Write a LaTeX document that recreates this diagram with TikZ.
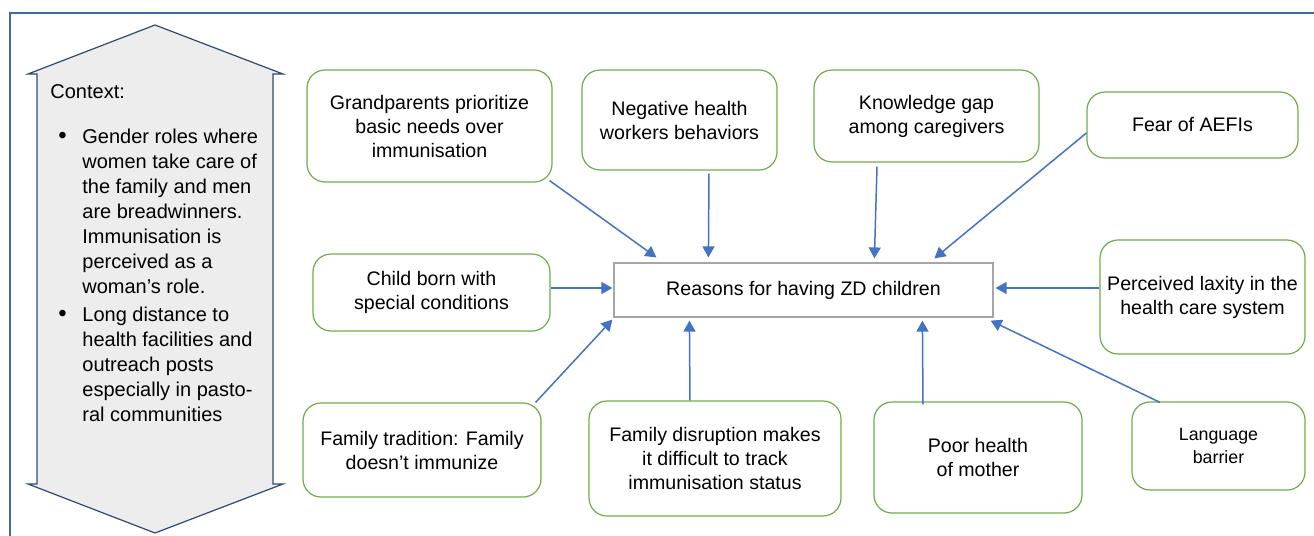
\documentclass[tikz,border=0pt]{standalone}
\usepackage{fontspec}
\setmainfont{Liberation Sans}
\usetikzlibrary{arrows.meta,calc}

\definecolor{boxgreen}{HTML}{70AD47}
\definecolor{linkblue}{HTML}{4472C4}
\definecolor{framblue}{HTML}{3E6E96}
\definecolor{ctxfill}{HTML}{EDEDED}
\definecolor{ctxline}{HTML}{2F4A70}

\tikzset{
  reason/.style={draw=boxgreen, line width=0.6pt, rounded corners=9pt, fill=white,
    align=center, font=\fontsize{9.8}{12}\selectfont},
  core/.style={draw=gray!70, line width=0.6pt, fill=white, align=center,
    font=\fontsize{9.8}{12}\selectfont},
  link/.style={draw=linkblue, line width=0.75pt, -{Triangle[length=5.5pt,width=6pt]}},
}

\begin{document}
\begin{tikzpicture}[x=0.5pt,y=-0.5pt]
\useasboundingbox (0,0) rectangle (1314,536);

%frame
\draw[framblue, line width=0.6pt] (10,536) -- (10,13) -- (1314,13);

%context arrow (up and down)
\draw[ctxline, fill=ctxfill, line width=0.6pt] (155,25) -- (283,74) -- (273,74) -- (273,484)
  -- (283,484) -- (155,533) -- (28,484) -- (37,484) -- (37,74) -- (28,74) -- cycle;

\node[anchor=north west, inner sep=0pt, align=left, font=\fontsize{10}{12.5}\selectfont] (ctx) at (50,84) {Context:\\[12.5pt]
\begin{tabular}{@{}p{16pt}@{}l@{}}
\hspace{4pt}{\large\textbullet} & Gender roles where\\
 & women take care of\\
 & the family and men\\
 & are breadwinners.\\
 & Immunisation is\\
 & perceived as a\\
 & woman’s role.\\[1.5pt]
\hspace{4pt}{\large\textbullet} & Long distance to\\
 & health facilities and\\
 & outreach posts\\
 & especially in pasto-\\
 & ral communities
\end{tabular}};

%center
\node[core, minimum width=189.5pt, minimum height=27pt] (zd) at (803.5,290) {Reasons for having ZD children};

%top row
\node[reason, minimum width=122.5pt, minimum height=56pt] (gp) at (429.5,126) {Grandparents prioritize\\basic needs over\\immunisation};
\node[reason, minimum width=97.5pt, minimum height=50pt] (neg) at (679.5,120) {Negative health\\workers behaviors};
\node[reason, minimum width=112.5pt, minimum height=46pt] (kg) at (926.5,116) {Knowledge gap\\among caregivers};
\node[reason, minimum width=105.5pt, minimum height=33pt] (fear) at (1192.5,125) {Fear of AEFIs};

%middle row
\node[reason, minimum width=118.5pt, minimum height=38.5pt] (child) at (431.5,292.5) {Child born with\\special conditions};
\node[reason, minimum width=102.5pt, minimum height=57pt] (lax) at (1202.5,297) {Perceived laxity in the\\health care system};

%bottom row
\node[reason, minimum width=119pt, minimum height=47pt] (ft) at (422,450) {Family tradition: Family\\doesn’t immunize};
\node[reason, minimum width=126pt, minimum height=57.5pt] (dis) at (715,458.5) {Family disruption makes\\it difficult to track\\immunisation status};
\node[reason, minimum width=104pt, minimum height=55.5pt] (poor) at (978,457.5) {Poor health\\of mother};
\node[reason, minimum width=86.5pt, minimum height=44pt, font=\fontsize{8.9}{11.5}\selectfont] (lang) at (1218.5,446) {Language\\barrier};

%arrows into the center
\draw[link] ($(gp.south east)+(-3,-2)$) -- ($(zd.north west)+(43,-5)$);
\draw[link] ($(neg.south)+(29.5,3)$) -- ($(zd.north west)+(95,-5)$);
\draw[link] ($(kg.south)+(-49.5,4)$) -- ($(zd.north west)+(261,-4)$);
\draw[link] ($(fear.west)+(0,8)$) -- ($(zd.north west)+(321,-4)$);
\draw[link] ($(child.east)+(0,-4.5)$) -- ($(zd.west)+(-1,-2)$);
\draw[link] ($(lax.west)+(0,-9)$) -- ($(zd.east)+(2,-2)$);
\draw[link] ($(ft.north east)+(-6,0)$) -- ($(zd.south west)+(-1,2)$);
\draw[link] ($(dis.north)+(-25,0)$) -- ($(zd.south west)+(76,3)$);
\draw[link] ($(poor.north)+(-55,3)$) -- ($(zd.south west)+(309,3)$);
\draw[link] ($(lang.north)+(-58.5,1)$) -- ($(zd.south east)+(-3,3)$);

\end{tikzpicture}
\end{document}
